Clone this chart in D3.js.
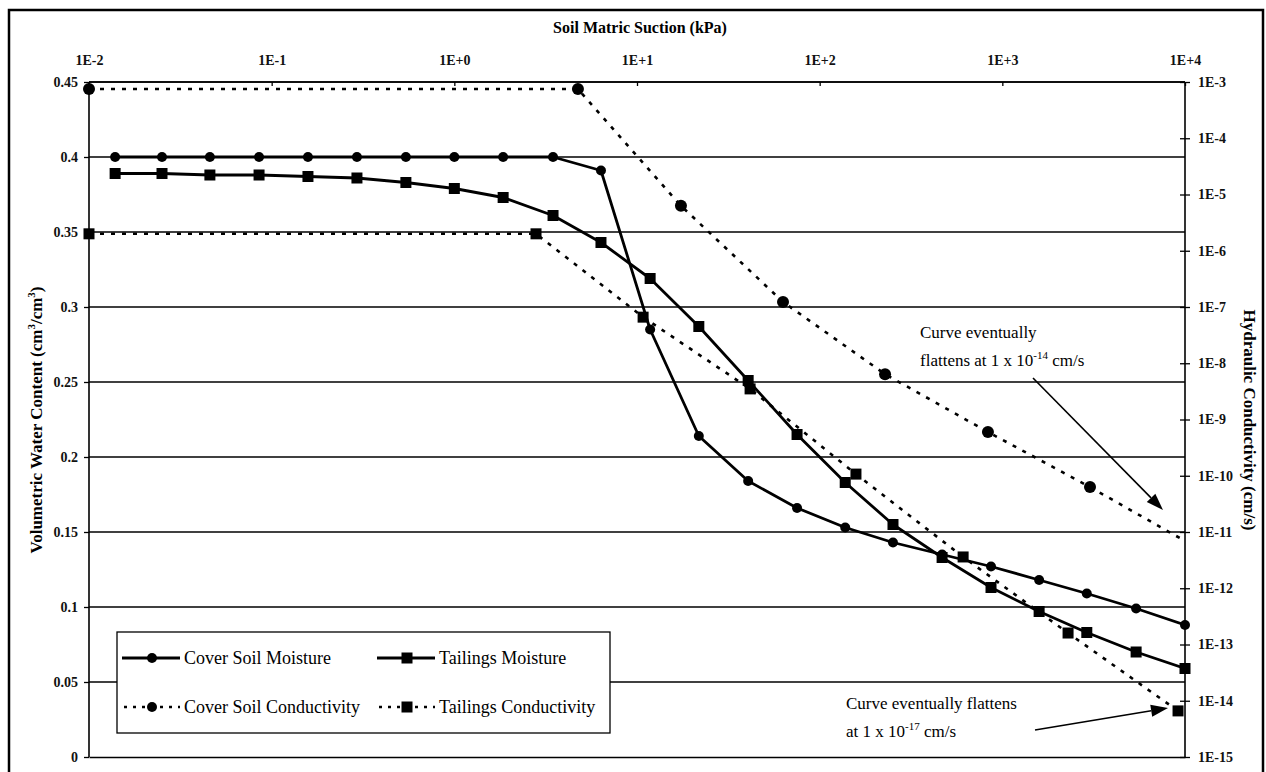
<!DOCTYPE html>
<html>
<head>
<meta charset="utf-8">
<script src="https://cdn.jsdelivr.net/npm/d3@7"></script>
<style>
  html, body { margin: 0; padding: 0; background: #fff; }
  svg { display: block; font-family: "Liberation Serif", "Times New Roman", serif; }
</style>
</head>
<body>
<script>
// Suction (kPa) at which the moisture curves were sampled
const suctionMoisture = [0.0139, 0.0251, 0.0459, 0.0853, 0.158, 0.293, 0.543, 1.0, 1.85, 3.47, 6.35,
  11.8, 21.8, 40.6, 75.2, 138, 252, 468, 867, 1590, 2900, 5400, 10000];
const coverMoisture = [0.400, 0.400, 0.400, 0.400, 0.400, 0.400, 0.400, 0.400, 0.400, 0.400, 0.391,
  0.285, 0.214, 0.184, 0.166, 0.153, 0.143, 0.135, 0.127, 0.118, 0.109, 0.099, 0.088];
const tailingsMoisture = [0.389, 0.389, 0.388, 0.388, 0.387, 0.386, 0.383, 0.379, 0.373, 0.361, 0.343,
  0.319, 0.287, 0.251, 0.215, 0.183, 0.155, 0.133, 0.113, 0.097, 0.083, 0.070, 0.059];

// Conductivity curves (cm/s) against suction (kPa)
const suctionCoverK = [0.01, 4.75, 17.4, 63.0, 228, 834, 3020, 10900];
const coverConductivity = [7.5e-4, 7.5e-4, 6.3e-6, 1.23e-7, 6.4e-9, 6.0e-10, 6.3e-11, 5.9e-12];
const suctionTailingsK = [0.01, 2.80, 10.8, 41.6, 158, 610, 2290, 9160];
const tailingsConductivity = [2.0e-6, 2.0e-6, 6.6e-8, 3.5e-9, 1.07e-10, 3.6e-12, 1.6e-13, 6.6e-15];

const suctionTicks = [1e-2, 1e-1, 1e0, 1e1, 1e2, 1e3, 1e4];
const suctionTickLabels = ["1E-2", "1E-1", "1E+0", "1E+1", "1E+2", "1E+3", "1E+4"];
const moistureTicks = [0, 0.05, 0.1, 0.15, 0.2, 0.25, 0.3, 0.35, 0.4, 0.45];
const conductivityExps = [-3, -4, -5, -6, -7, -8, -9, -10, -11, -12, -13, -14, -15];

const width = 1266, height = 772;
const margin = {top: 82, right: 81, bottom: 15, left: 89};
const plotW = width - margin.left - margin.right;
const plotH = height - margin.top - margin.bottom;

const x = d3.scaleLog().domain([1e-2, 1e4]).range([0, plotW]);
const yW = d3.scaleLinear().domain([0, 0.45]).range([plotH, 0]);
const yK = d3.scaleLog().domain([1e-15, 1e-3]).range([plotH, 0]);

const svg = d3.select("body").append("svg")
  .attr("width", width).attr("height", height);

// outer frame of the figure
svg.append("path")
  .attr("d", `M9,${height + 5}V10H1263V${height + 5}`)
  .attr("fill", "none").attr("stroke", "#000").attr("stroke-width", 2.5);

svg.append("defs").append("clipPath").attr("id", "plot-clip")
  .append("rect").attr("width", plotW).attr("height", plotH);

const g = svg.append("g").attr("transform", `translate(${margin.left},${margin.top})`);

// horizontal grid lines
g.append("g")
  .selectAll("line")
  .data(moistureTicks.filter(d => d > 0))
  .join("line")
  .attr("x1", 0).attr("x2", plotW)
  .attr("y1", d => yW(d)).attr("y2", d => yW(d))
  .attr("stroke", "#000").attr("stroke-width", 1.3);

// axes
const axisLeftG = g.append("g").call(d3.axisLeft(yW).tickValues(moistureTicks)
  .tickFormat(d => d === 0 ? "0" : String(+d.toFixed(2))).tickSize(5).tickPadding(6));
const axisRightG = g.append("g").attr("transform", `translate(${plotW},0)`)
  .call(d3.axisRight(yK).tickValues(conductivityExps.map(e => Math.pow(10, e)))
    .tickFormat((d, i) => "1E" + conductivityExps[i]).tickSize(5).tickPadding(8));
axisRightG.selectAll(".tick line").attr("x1", -5);
const axisTopG = g.append("g").call(d3.axisTop(x).tickValues(suctionTicks)
  .tickFormat((d, i) => suctionTickLabels[i]).tickSize(-4).tickPadding(17));
const axisBottomG = g.append("g").attr("transform", `translate(0,${plotH})`)
  .call(d3.axisBottom(x).tickValues([]).tickSizeOuter(0));

[axisLeftG, axisRightG, axisTopG, axisBottomG].forEach(a => {
  a.select(".domain").attr("stroke", "#000").attr("stroke-width", 1.6);
  a.selectAll(".tick line").attr("stroke", "#000").attr("stroke-width", 1.3);
  a.selectAll("text").attr("font-family", "Liberation Serif").attr("font-size", 14)
    .attr("font-weight", "bold").attr("fill", "#111");
});
axisLeftG.select(".domain").attr("d", `M0,${plotH}V0`);
axisRightG.select(".domain").attr("d", `M0,${plotH}V0`);
axisTopG.select(".domain").attr("d", `M0,0H${plotW}`);

// axis titles
svg.append("text")
  .attr("x", 640).attr("y", 33)
  .attr("text-anchor", "middle")
  .attr("font-size", 16).attr("font-weight", "bold")
  .text("Soil Matric Suction (kPa)");

const yTitle = svg.append("text")
  .attr("transform", "translate(42,420) rotate(-90)")
  .attr("text-anchor", "middle")
  .attr("font-size", 17).attr("font-weight", "bold");
yTitle.append("tspan").text("Volumetric Water Content (cm");
yTitle.append("tspan").attr("dy", -7).attr("font-size", 11).text("3");
yTitle.append("tspan").attr("dy", 7).text("/cm");
yTitle.append("tspan").attr("dy", -7).attr("font-size", 11).text("3");
yTitle.append("tspan").attr("dy", 7).text(")");

svg.append("text")
  .attr("transform", "translate(1244,420) rotate(90)")
  .attr("text-anchor", "middle")
  .attr("font-size", 17).attr("font-weight", "bold")
  .text("Hydraulic Conductivity (cm/s)");

// series
const moistureLine = d3.line().x(d => x(d[0])).y(d => yW(d[1]));
const kLine = d3.line().x(d => x(d[0])).y(d => yK(d[1]));

const series = [
  {name: "Cover Soil Moisture", pts: d3.zip(suctionMoisture, coverMoisture), line: moistureLine, y: yW, shape: "circle", dashed: false},
  {name: "Tailings Moisture", pts: d3.zip(suctionMoisture, tailingsMoisture), line: moistureLine, y: yW, shape: "square", dashed: false},
  {name: "Cover Soil Conductivity", pts: d3.zip(suctionCoverK, coverConductivity), line: kLine, y: yK, shape: "circle", dashed: true},
  {name: "Tailings Conductivity", pts: d3.zip(suctionTailingsK, tailingsConductivity), line: kLine, y: yK, shape: "square", dashed: true},
];

function drawMarker(sel, shape, big) {
  if (shape === "circle") {
    sel.append("circle").attr("r", big ? 6 : 5).attr("fill", "#000");
  } else {
    sel.append("rect").attr("x", -5.5).attr("y", -5.5).attr("width", 11).attr("height", 11).attr("fill", "#000");
  }
}

series.forEach(s => {
  g.append("path")
    .datum(s.pts)
    .attr("clip-path", "url(#plot-clip)")
    .attr("fill", "none")
    .attr("stroke", "#000")
    .attr("stroke-width", s.dashed ? 2.6 : 2.8)
    .attr("stroke-dasharray", s.dashed ? "4,7" : null)
    .attr("stroke-linejoin", "round")
    .attr("d", s.line);
  g.append("g")
    .selectAll("g")
    .data(s.pts.filter(d => d[0] <= 1e4))
    .join("g")
    .attr("transform", d => `translate(${x(d[0])},${s.y(d[1])})`)
    .each(function() { drawMarker(d3.select(this), s.shape, s.dashed); });
});

// legend
const legend = svg.append("g").attr("transform", "translate(117,632)");
legend.append("rect")
  .attr("width", 493).attr("height", 101)
  .attr("fill", "#fff").attr("stroke", "#000").attr("stroke-width", 1.3);
const legendPos = [[5, 26], [260, 26], [5, 75], [260, 75]];
series.forEach((s, i) => {
  const [lx, ly] = legendPos[i];
  const item = legend.append("g").attr("transform", `translate(${lx},${ly})`);
  item.append("line")
    .attr("x1", s.dashed ? 2 : 0).attr("x2", 58).attr("y1", 0).attr("y2", 0)
    .attr("stroke", "#000").attr("stroke-width", s.dashed ? 2.4 : 2.8)
    .attr("stroke-dasharray", s.dashed ? "3,6" : null);
  drawMarker(item.append("g").attr("transform", "translate(30,0)"), s.shape, false);
  item.append("text")
    .attr("x", 62).attr("y", 6)
    .attr("font-size", 18)
    .text(s.name);
});

// annotations
function annotation(lines, ax, ay) {
  lines.forEach((ln, i) => {
    const t = svg.append("text").attr("x", ax).attr("y", ay + i * 28).attr("font-size", 17);
    if (ln.sup) {
      t.append("tspan").text(ln.pre);
      t.append("tspan").attr("dy", -7).attr("font-size", 11).text(ln.sup);
      t.append("tspan").attr("dy", 7).text(ln.post);
    } else {
      t.text(ln.text);
    }
  });
}
annotation([{text: "Curve eventually"}, {pre: "flattens at 1 x 10", sup: "-14", post: " cm/s"}], 920, 338);
annotation([{text: "Curve eventually flattens"}, {pre: "at 1 x 10", sup: "-17", post: " cm/s"}], 846, 709);

function arrow(x1, y1, x2, y2) {
  const ang = Math.atan2(y2 - y1, x2 - x1);
  const len = 17, half = 6;
  const bx = x2 - len * Math.cos(ang), by = y2 - len * Math.sin(ang);
  svg.append("line").attr("x1", x1).attr("y1", y1).attr("x2", bx).attr("y2", by)
    .attr("stroke", "#000").attr("stroke-width", 1.6);
  svg.append("path")
    .attr("d", `M${x2},${y2}L${bx + half * Math.sin(ang)},${by - half * Math.cos(ang)}L${bx - half * Math.sin(ang)},${by + half * Math.cos(ang)}Z`)
    .attr("fill", "#000");
}
arrow(1033, 378, 1163, 510);
arrow(1035, 730, 1168, 708);
</script>
</body>
</html>
